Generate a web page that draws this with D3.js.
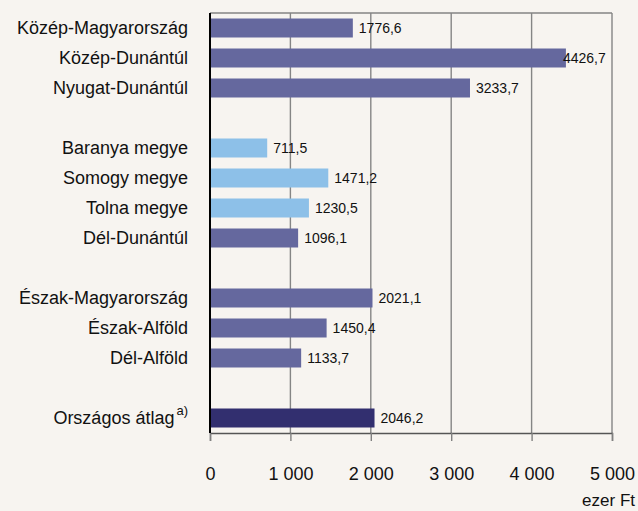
<!DOCTYPE html>
<html>
<head>
<meta charset="utf-8">
<script src="https://cdn.jsdelivr.net/npm/d3@7"></script>
<style>
  html, body { margin: 0; padding: 0; background: #f7f4f0; }
  svg { display: block; }
  text { font-family: "Liberation Sans", Arial, sans-serif; fill: #111; }
</style>
</head>
<body>
<svg id="chart" width="638" height="511"></svg>
<script>
// ---- data ----
const categories = ["Közép-Magyarország", "Közép-Dunántúl", "Nyugat-Dunántúl", "",
  "Baranya megye", "Somogy megye", "Tolna megye", "Dél-Dunántúl", "",
  "Észak-Magyarország", "Észak-Alföld", "Dél-Alföld", "", "Országos átlag"];
const values = [1776.6, 4426.7, 3233.7, null,
  711.5, 1471.2, 1230.5, 1096.1, null,
  2021.1, 1450.4, 1133.7, null, 2046.2];
const kinds = ["region", "region", "region", null,
  "county", "county", "county", "region", null,
  "region", "region", "region", null, "national"];
const superscripts = ["", "", "", "", "", "", "", "", "", "", "", "", "", "a)"];
const xTicks = [0, 1000, 2000, 3000, 4000, 5000];
const unitLabel = "ezer Ft";

// ---- layout ----
const W = 638, H = 511;
const m = { top: 13, right: 26, bottom: 78, left: 210 };
const iw = W - m.left - m.right, ih = H - m.top - m.bottom;
const colors = { region: "#65689e", county: "#8dc0e8", national: "#322f6f" };
const fmt = v => d3.format(".1f")(v).replace(".", ",");
const tickFmt = v => v === 0 ? "0" : d3.format(",")(v).replace(/,/g, " ");

const svg = d3.select("#chart");
const g = svg.append("g").attr("transform", `translate(${m.left},${m.top})`);

const x = d3.scaleLinear().domain([0, 5000]).range([0, iw]);
const y = d3.scaleBand().domain(d3.range(categories.length)).range([0, ih])
  .paddingInner(0.367).paddingOuter(0.1835);

// gridlines
g.append("g").selectAll("line").data(xTicks.filter(t => t > 0)).join("line")
  .attr("x1", d => x(d)).attr("x2", d => x(d)).attr("y1", 0).attr("y2", ih)
  .attr("stroke", "#858585").attr("stroke-width", 1.4);
// top border
g.append("line").attr("x1", 0).attr("x2", iw).attr("y1", 0).attr("y2", 0)
  .attr("stroke", "#858585").attr("stroke-width", 1.4);

const rows = categories.map((c, i) => ({ i, c, v: values[i], k: kinds[i], s: superscripts[i] }))
  .filter(d => d.v != null);

// bars
g.append("g").selectAll("rect").data(rows).join("rect")
  .attr("x", 0).attr("y", d => y(d.i)).attr("height", y.bandwidth())
  .attr("width", d => x(d.v)).attr("fill", d => colors[d.k]);

// value labels
g.append("g").selectAll("text").data(rows).join("text")
  .attr("x", d => {
    const px = x(d.v) + 6;
    return px + 44 > iw ? x(d.v) - 3 : px;
  })
  .attr("y", d => y(d.i) + y.bandwidth() / 2)
  .attr("dy", "0.36em").attr("font-size", 14)
  .text(d => fmt(d.v));

// category labels
const cl = g.append("g").selectAll("text").data(rows).join("text")
  .attr("x", -22).attr("y", d => y(d.i) + y.bandwidth() / 2)
  .attr("dy", "0.36em").attr("text-anchor", "end").attr("font-size", 18);
cl.append("tspan").text(d => d.c);
cl.filter(d => d.s).append("tspan").attr("font-size", 13).attr("dx", 2)
  .attr("dy", "-0.7em").text(d => d.s);

// x axis
const xa = g.append("g").attr("transform", `translate(0,${ih})`)
  .call(d3.axisBottom(x).tickValues(xTicks).tickFormat(tickFmt).tickSize(8).tickPadding(26));
xa.select(".domain").attr("stroke", "#555").attr("stroke-width", 1.4);
xa.selectAll(".tick line").attr("stroke", "#808080").attr("stroke-width", 1.4);
xa.selectAll(".tick text").attr("font-size", 18).attr("fill", "#111")
  .attr("font-family", "Liberation Sans, Arial, sans-serif");

// left axis line
g.append("line").attr("x1", 0).attr("x2", 0).attr("y1", 0).attr("y2", ih)
  .attr("stroke", "#000").attr("stroke-width", 2);

// unit label
svg.append("text").attr("x", 635).attr("y", 506).attr("text-anchor", "end")
  .attr("font-size", 17).text(unitLabel);
</script>
</body>
</html>
